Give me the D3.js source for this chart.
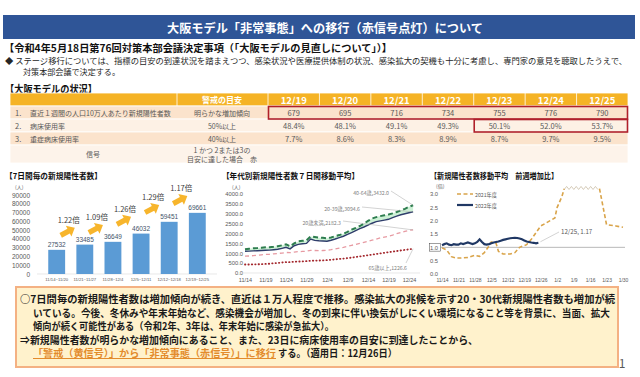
<!DOCTYPE html>
<html>
<head>
<meta charset="utf-8">
<script src="https://cdn.jsdelivr.net/npm/d3@7"></script>
<style>
  body { margin: 0; background: #fff; }
  svg { display: block; font-family: "Noto Sans CJK JP", "Noto Sans", sans-serif; }
</style>
</head>
<body>
<svg id="chart" width="640" height="377"></svg>
<script>
// ---------------- table data
const dates = ["12/19", "12/20", "12/21", "12/22", "12/23", "12/24", "12/25"];
const rowLabels = ["直近１週間の人口10万人あたり新規陽性者数", "病床使用率", "重症病床使用率"];
const rowTargets = ["明らかな増加傾向", "50%以上", "40%以上"];
const newCases = ["679", "695", "716", "734", "755", "776", "790"];
const bedRate = ["48.4%", "48.1%", "49.1%", "49.3%", "50.1%", "52.0%", "53.7%"];
const severeRate = ["7.7%", "8.6%", "8.3%", "8.9%", "8.7%", "9.7%", "9.5%"];
const alertFrom = [0, 4, null]; // first date column where the target was reached

// ---------------- weekly new cases
const weeks = ["11/14~11/20", "11/21~11/27", "11/28~12/4", "12/5~12/11", "12/12~12/18", "12/19~12/25"];
const weeklyCases = [27532, 33485, 36649, 46032, 59451, 69661];
const weekRatios = ["1.22倍", "1.09倍", "1.26倍", "1.29倍", "1.17倍"];

// ---------------- 7-day average by age, daily 11/14 .. 12/25
const age4064 = [1200,1230,1250,1260,1280,1300,1310,1330,1360,1400, 1450,1350,1500,1600,1630,1650,1850,1820,1790,1780,
  1760,1800,1860,1920,1990,2080,2200,2280,2380,2500, 2640,2760,2830,2880,2920,2960,3020,3090,3170,3250, 3350,3432.0];
const age2039 = [1100,1110,1120,1130,1140,1150,1160,1180,1200,1250, 1300,1220,1380,1450,1480,1500,1720,1650,1630,1620,
  1610,1660,1720,1790,1860,1950,2050,2150,2250,2330, 2420,2520,2600,2640,2680,2720,2800,2880,2950,3000, 3050,3094.6];
const ageU20 = [850,860,880,900,920,940,950,970,990,1010, 1040,1030,1060,1080,1090,1100,1150,1140,1130,1140,
  1150,1180,1220,1260,1300,1350,1400,1450,1500,1550, 1600,1660,1720,1780,1820,1860,1920,1990,2050,2110, 2160,2182.3];
const age65 = [430,430,440,440,450,460,470,490,510,530, 550,550,570,580,590,600,620,630,630,640,
  650,670,690,710,730,750,780,810,840,870, 900,930,960,990,1020,1050,1080,1110,1140,1170, 1200,1226.6];
const ageLabels = ["40-64歳,3432.0", "20-39歳,3094.6", "20歳未満,2182.3", "65歳以上,1226.6"];

// ---------------- week-on-week ratio
const ratio2021Dates = ["11/14","11/16","11/18","11/20","11/22","11/25","11/28","11/30","12/2","12/4","12/5","12/7","12/8","12/10",
  "12/13","12/15","12/17","12/20","12/22","12/24","12/26","12/28","12/30","1/1","1/2","1/4","1/5","1/20","1/22","1/23","1/27","1/30"];
const ratio2021 = [0.98,0.9,0.65,0.6,0.6,0.62,0.7,0.66,0.8,1.05,1.2,1.15,0.85,0.75,
  0.75,0.8,1.0,1.1,1.3,1.55,1.8,1.9,2.0,2.1,2.5,2.9,3.2,3.2,2.3,1.85,1.8,1.75];
const ratio2022 = [1.08,1.12,1.15,1.1,1.08,1.12,1.1, 1.1,1.15,1.12,1.15,1.18,1.15,1.12, 1.15,1.2,1.3,1.2,1.12,1.1,1.12,
  1.15,1.18,1.2,1.22,1.25,1.28,1.3, 1.32,1.34,1.35,1.36,1.35,1.33,1.3, 1.26,1.22,1.2,1.18,1.17,1.15,1.17];

const svg = d3.select("#chart");
svg.append("rect").attr("width", 640).attr("height", 377).attr("fill", "#fff");

function txt(g, x, y, s, o = {}) {
  const t = g.append("text")
    .attr("x", x).attr("y", y)
    .attr("dominant-baseline", "central")
    .attr("font-size", o.size || 8)
    .attr("font-weight", o.weight || "normal")
    .attr("fill", o.fill || "#262626")
    .attr("text-anchor", o.anchor || "start")
    .text(s);
  if (o.len) t.attr("textLength", o.len).attr("lengthAdjust", "spacingAndGlyphs");
  if (o.underline) t.attr("text-decoration", "underline");
  return t;
}

// ---------------- header
svg.append("rect").attr("x", 3).attr("y", 15).attr("width", 632).attr("height", 24).attr("fill", "#2f5597");
txt(svg, 325, 27, "大阪モデル「非常事態」への移行（赤信号点灯）について", { size: 12.5, weight: "bold", fill: "#fff", anchor: "middle", len: 316 });
txt(svg, 4, 47, "【令和4年5月18日第76回対策本部会議決定事項（「大阪モデルの見直しについて」）】", { size: 10, weight: "bold", fill: "#111", len: 388 });
txt(svg, 5, 59.5, "◆ ステージ移行については、指標の目安の到達状況を踏まえつつ、感染状況や医療提供体制の状況、感染拡大の契機も十分に考慮し、専門家の意見を聴取したうえで、", { size: 8.4, len: 622 });
txt(svg, 23, 71, "対策本部会議で決定する。", { size: 8.4, len: 97 });
txt(svg, 5, 88, "【大阪モデルの状況】", { size: 10, weight: "bold", fill: "#111", len: 92 });

// ---------------- table
const tbl = svg.append("g");
const colX = d3.scaleBand().domain(dates).range([268, 628]);
const rowY = [93, 106, 119, 132, 145, 163];
const rowFill = ["#f5b325", "#fbe3cc", "#fdf1e5", "#fbe3cc", "#fdf3ea"];
rowFill.forEach((c, i) => {
  tbl.append("rect").attr("x", 10).attr("y", rowY[i]).attr("width", 618).attr("height", rowY[i + 1] - rowY[i])
    .attr("fill", c).attr("stroke", "#fff").attr("stroke-width", 0.8);
});
[177, ...dates.map(d => colX(d))].forEach(x => {
  tbl.append("line").attr("x1", x).attr("x2", x).attr("y1", 93).attr("y2", 106).attr("stroke", "#fff").attr("stroke-width", 0.8);
});
const tColor = "#595959";
txt(tbl, 222, 99.5, "警戒の目安", { size: 8, weight: "bold", fill: "#fff", anchor: "middle" });
dates.forEach(d => txt(tbl, colX(d) + colX.bandwidth() / 2, 99.5, d, { size: 9.5, weight: "bold", fill: "#fff", anchor: "middle" }));
const rowValues = [newCases, bedRate, severeRate];
rowLabels.forEach((lab, i) => {
  const cy = (rowY[i + 1] + rowY[i + 2]) / 2;
  txt(tbl, 15, cy, (i + 1) + ".", { size: 7.5, fill: tColor });
  txt(tbl, 30, cy, lab, { size: 7, fill: tColor });
  txt(tbl, 222, cy, rowTargets[i], { size: 7, fill: tColor, anchor: "middle" });
  rowValues[i].forEach((v, j) => txt(tbl, colX(dates[j]) + colX.bandwidth() / 2, cy, v, { size: 7.5, fill: tColor, anchor: "middle" }));
  if (alertFrom[i] !== null) {
    const x0 = colX(dates[alertFrom[i]]);
    tbl.append("rect").attr("x", x0 + 0.5).attr("y", rowY[i + 1] + 0.5).attr("width", 627 - x0).attr("height", 12.5)
      .attr("fill", "none").attr("stroke", "#b0202a").attr("stroke-width", 1.6);
  }
});
txt(tbl, 93, 154, "信号", { size: 7, fill: tColor, anchor: "middle" });
txt(tbl, 222, 149.5, "1 かつ 2または3の", { size: 7, fill: tColor, anchor: "middle" });
txt(tbl, 222, 159, "目安に達した場合　赤", { size: 7, fill: tColor, anchor: "middle" });

// ---------------- chart titles
txt(svg, 5, 175, "【7日間毎の新規陽性者数】", { size: 8, weight: "bold", fill: "#111", len: 97 });
txt(svg, 222, 175, "【年代別新規陽性者数７日間移動平均】", { size: 8, weight: "bold", fill: "#111", len: 137 });
txt(svg, 430, 175, "【新規陽性者数移動平均　前週増加比】", { size: 8, weight: "bold", fill: "#111", len: 128 });

const axisStyle = (g, size) => {
  g.select(".domain").remove();
  g.selectAll("text").attr("font-size", size).attr("fill", "#595959").attr("font-family", "Liberation Sans, sans-serif");
};

// ---------------- left: weekly bars
const left = svg.append("g");
const xB = d3.scaleBand().domain(weeks).range([37, 217]).padding(0.4);
const yB = d3.scaleLinear().domain([0, 90000]).range([274, 195]);
left.append("g").attr("transform", "translate(37,0)")
  .call(d3.axisLeft(yB).tickValues(d3.range(0, 90001, 10000)).tickSize(0).tickPadding(7).tickFormat(d3.format("d")))
  .call(g => axisStyle(g, 6.5));
left.append("g").attr("transform", "translate(0,274)")
  .call(d3.axisBottom(xB).tickSize(0).tickPadding(4))
  .call(g => axisStyle(g, 4.2));
left.append("line").attr("x1", 37).attr("x2", 217).attr("y1", 274).attr("y2", 274).attr("stroke", "#d9d9d9").attr("stroke-width", 0.6);
txt(left, 15, 186, "(人)", { size: 5, fill: "#595959" });
left.selectAll(".bar").data(weeklyCases).join("rect").attr("class", "bar")
  .attr("x", (d, i) => xB(weeks[i])).attr("width", xB.bandwidth())
  .attr("y", d => yB(d)).attr("height", d => 274 - yB(d)).attr("fill", "#5b9bd5");
left.selectAll(".blab").data(weeklyCases).join("text").attr("class", "blab")
  .attr("x", (d, i) => xB(weeks[i]) + xB.bandwidth() / 2).attr("y", d => yB(d) - 3)
  .attr("text-anchor", "middle").attr("font-size", 6.5).attr("fill", "#44546a")
  .attr("font-family", "Liberation Sans, sans-serif").text(d => d);
const arrowPath = "M-8,-2.6 L1,-2.6 L1,-6 L8,0 L1,6 L1,2.6 L-8,2.6 Z";
weekRatios.forEach((r, i) => {
  const cx = (xB(weeks[i]) + xB(weeks[i + 1]) + xB.bandwidth()) / 2 - 3;
  const cy = yB(weeklyCases[i + 1]) - 13;
  left.append("path").attr("d", arrowPath).attr("fill", "#f7b52c")
    .attr("transform", `translate(${cx},${cy}) rotate(-28)`);
  txt(left, cx + 1, cy - 12, r, { size: 7.5, fill: "#404040", anchor: "middle" });
});

// ---------------- middle: age groups
const mid = svg.append("g");
const dayStart = new Date(2022, 10, 14);
const ageDays = d3.timeDay.range(dayStart, new Date(2022, 11, 26));
const xM = d3.scaleTime().domain([dayStart, new Date(2022, 11, 24)]).range([245, 409]);
const yM = d3.scaleLinear().domain([0, 4000]).range([273, 194]);
mid.append("g").attr("transform", "translate(247,0)")
  .call(d3.axisLeft(yM).tickValues(d3.range(0, 4001, 500)).tickSize(0).tickPadding(4).tickFormat(d3.format(".1f")))
  .call(g => axisStyle(g, 5.8));
mid.append("g").attr("transform", "translate(0,273)")
  .call(d3.axisBottom(xM).tickValues(d3.timeDay.range(dayStart, new Date(2022, 11, 25), 5)).tickSize(0).tickPadding(5)
    .tickFormat(d => `${d.getMonth() + 1}/${d.getDate()}`))
  .call(g => axisStyle(g, 5.5));
mid.append("line").attr("x1", 240).attr("x2", 420).attr("y1", 273).attr("y2", 273).attr("stroke", "#d9d9d9").attr("stroke-width", 0.6);
txt(mid, 232, 186, "(人)", { size: 5, fill: "#595959" });

mid.append("path").datum(ageDays.map((d, i) => [d, age2039[i], age4064[i]]))
  .attr("fill", "#cdf1d6")
  .attr("d", d3.area().x(d => xM(d[0])).y0(d => yM(d[1])).y1(d => yM(d[2])));
const ageSeries = [
  { v: age4064, c: "#2e7d4f", w: 2, dash: "5,3", cap: "butt" },
  { v: age2039, c: "#2f3d6b", w: 1.4, dash: null, cap: "butt" },
  { v: ageU20, c: "#e79aa2", w: 1.3, dash: "4,3", cap: "butt" },
  { v: age65, c: "#a3262c", w: 1.8, dash: "0.4,3", cap: "round" }
];
const lineM = d3.line().x(d => xM(d[0])).y(d => yM(d[1]));
ageSeries.forEach(s => {
  mid.append("path").datum(ageDays.map((d, i) => [d, s.v[i]]))
    .attr("fill", "none").attr("stroke", s.c).attr("stroke-width", s.w)
    .attr("stroke-dasharray", s.dash).attr("stroke-linecap", s.cap)
    .attr("d", lineM);
});
// end-point labels
const lastDay = ageDays[ageDays.length - 1];
const labelPos = [[389, 192], [360, 208], [341, 222], [407, 267]];
ageSeries.forEach((s, i) => {
  const ex = xM(lastDay), ey = yM(s.v[s.v.length - 1]);
  const [lx, ly] = labelPos[i];
  const ax = i === 3 ? lx - 1 : lx + 2, ay = i === 3 ? ly - 4 : ly - 1;
  mid.append("line").attr("x1", ax).attr("y1", ay).attr("x2", ex).attr("y2", ey).attr("stroke", "#a6a6a6").attr("stroke-width", 0.5);
  txt(mid, lx, ly, ageLabels[i], { size: 5.2, fill: "#808080", anchor: "end" });
});

// ---------------- right: week-on-week ratio
const right = svg.append("g");
const parseMD = s => { const [m, d] = s.split("/").map(Number); return new Date(m >= 11 ? 2022 : 2023, m - 1, d); };
const xR = d3.scaleTime().domain([dayStart, new Date(2023, 0, 30)]).range([442, 623]);
const yR = d3.scaleLinear().domain([0, 3]).range([274, 194]);
right.append("g").attr("transform", "translate(441,0)")
  .call(d3.axisLeft(yR).tickValues(d3.range(0, 3.01, 0.5)).tickSize(0).tickPadding(3).tickFormat(d3.format(".1f")))
  .call(g => axisStyle(g, 5.8));
right.append("g").attr("transform", "translate(0,274)")
  .call(d3.axisBottom(xR).tickValues(d3.timeDay.range(dayStart, new Date(2023, 0, 31), 7)).tickSize(0).tickPadding(4)
    .tickFormat(d => `${d.getMonth() + 1}/${d.getDate()}`))
  .call(g => axisStyle(g, 5));
txt(right, 436, 185, "(倍)", { size: 5, fill: "#595959" });
right.append("rect").attr("x", 429.5).attr("y", yR(1) - 3.8).attr("width", 11).attr("height", 7.6)
  .attr("fill", "none").attr("stroke", "#404040").attr("stroke-width", 0.5);
right.append("line").attr("x1", 441).attr("x2", 625).attr("y1", yR(1)).attr("y2", yR(1)).attr("stroke", "#a6a6a6").attr("stroke-width", 0.8);

const pts21 = ratio2021Dates.map((d, i) => [parseMD(d), ratio2021[i]]);
const lineR = d3.line().x(d => xR(d[0])).y(d => yR(d[1]));
const cut = pts21.findIndex(d => d[1] > 3);
const c21 = "#d9a44a";
[pts21.slice(0, cut + 1), pts21.slice(cut + 1)].forEach(seg => {
  right.append("path").datum(seg).attr("fill", "none").attr("stroke", c21).attr("stroke-width", 1.6)
    .attr("stroke-dasharray", "4,2.5").attr("d", lineR);
});
// off-scale stretch drawn as a zigzag
{
  const x1 = xR(pts21[cut][0]), x2 = xR(pts21[cut + 1][0]), yy = yR(pts21[cut][1]);
  const zz = [];
  for (let x = x1, k = 0; x <= x2; x += 2.4, k++) zz.push([x, yy + (k % 2 ? -2.2 : 0.8)]);
  right.append("path").attr("d", d3.line()(zz)).attr("fill", "none").attr("stroke", "#b9a88a").attr("stroke-width", 0.6);
}
const pts22 = ageDays.map((d, i) => [d, ratio2022[i]]);
right.append("path").datum(pts22).attr("fill", "none").attr("stroke", "#203864").attr("stroke-width", 2.2).attr("d", lineR);
const last22 = pts22[pts22.length - 1];
right.append("line").attr("x1", xR(last22[0]) + 2).attr("y1", yR(last22[1]) - 1).attr("x2", 559).attr("y2", 232)
  .attr("stroke", "#a6a6a6").attr("stroke-width", 0.5);
txt(right, 561, 231, `${last22[0].getMonth() + 1}/${last22[0].getDate()}, ${last22[1]}`, { size: 6.2, fill: "#595959" });
// legend
right.append("line").attr("x1", 457).attr("x2", 473).attr("y1", 194).attr("y2", 194).attr("stroke", c21).attr("stroke-width", 1.6).attr("stroke-dasharray", "4,2.5");
txt(right, 475, 194, "2021年度", { size: 5.2, fill: "#595959" });
right.append("line").attr("x1", 457).attr("x2", 473).attr("y1", 205).attr("y2", 205).attr("stroke", "#203864").attr("stroke-width", 2.2);
txt(right, 475, 205, "2022年度", { size: 5.2, fill: "#595959" });

// ---------------- bottom message box
const box = svg.append("g");
box.append("rect").attr("x", 16).attr("y", 287).attr("width", 602).attr("height", 80)
  .attr("fill", "#fff2cc").attr("stroke", "#f4b183").attr("stroke-width", 2);
const bopt = { size: 10, weight: "bold", fill: "#1a1a1a" };
txt(box, 20, 298, "○7日間毎の新規陽性者数は増加傾向が続き、直近は１万人程度で推移。感染拡大の兆候を示す20・30代新規陽性者数も増加が続", { ...bopt, len: 595 });
txt(box, 33, 312, "いている。今後、冬休みや年末年始など、感染機会が増加し、冬の到来に伴い換気がしにくい環境になること等を背景に、当面、拡大", { ...bopt, len: 577 });
txt(box, 33, 325.5, "傾向が続く可能性がある（令和2年、3年は、年末年始に感染が急拡大）。", { ...bopt, len: 301 });
txt(box, 20, 339, "⇒新規陽性者数が明らかな増加傾向にあること、また、23日に病床使用率の目安に到達したことから、", { ...bopt, len: 458 });
txt(box, 33, 352.5, "「警戒（黄信号）」から「非常事態（赤信号）」に移行", { ...bopt, fill: "#e38b2c", underline: true, len: 243 });
txt(box, 278, 352.5, "する。（適用日：12月26日）", { ...bopt, len: 119 });
txt(svg, 622, 362, "1", { size: 12, fill: "#595959", anchor: "middle" });
</script>
</body>
</html>
